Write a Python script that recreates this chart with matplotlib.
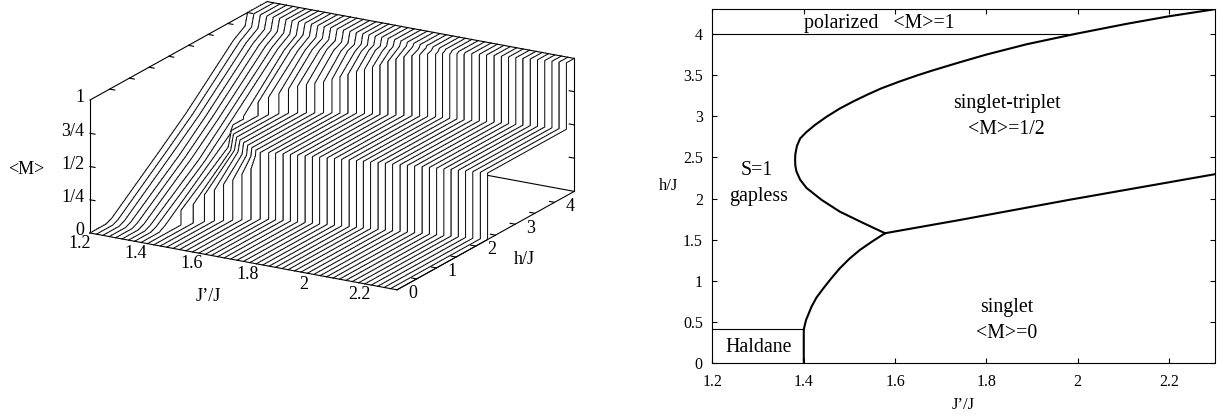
import matplotlib
matplotlib.use('Agg')
import matplotlib.pyplot as plt
from mpl_toolkits.mplot3d import proj3d
from mpl_toolkits.mplot3d.art3d import Poly3DCollection

plt.rcParams['font.family'] = ['Liberation Serif', 'DejaVu Serif']
plt.rcParams['font.size'] = 11.5

W, H = 1223, 418
LW = 0.8

# ---- left panel: one magnetization curve per J'/J ----
j_vals = [1.200, 1.223, 1.246, 1.269, 1.292, 1.315, 1.338, 1.360, 1.383, 1.406,
          1.429, 1.452, 1.475, 1.498, 1.521, 1.544, 1.567, 1.590, 1.613, 1.635,
          1.658, 1.681, 1.704, 1.727, 1.750, 1.773, 1.796, 1.819, 1.842, 1.865,
          1.888, 1.910, 1.933, 1.956, 1.979, 2.002, 2.025, 2.048, 2.071, 2.094,
          2.117, 2.140, 2.163, 2.185, 2.208, 2.231, 2.254, 2.277, 2.300]

# h where the singlet plateau begins for the large J' curves
h_step = [1.61, 1.63, 1.66, 1.68, 1.70, 1.73, 1.75, 1.77, 1.80, 1.82, 1.84,
          1.87, 1.89, 1.91, 1.93, 1.96, 1.98, 2.00, 2.03, 2.05, 2.07, 2.10,
          2.12, 2.14, 2.16, 2.19, 2.21, 2.23, 2.25, 2.28, 2.30]
# h where the polarized plateau begins for the largest J' curves
h_end = [4.01, 4.04, 4.06, 4.09, 4.11, 4.13, 4.15, 4.17, 4.20, 4.22, 4.24,
         4.26, 4.28, 4.30]

h_onset = [.41, .41, .41, .41, .41, .41, .41, .41, .46, .85, 1.00, 1.12, 1.21,
           1.28, 1.35, 1.42, 1.49, 1.56] + h_step
h_kick = [.55, .55, .55, .55, .55, .55, .55, .55, .62, .85, 1.00, 1.12, 1.21,
          1.28, 1.35, 1.42, 1.49, 1.56] + h_step
m_kick = [.02, .02, .02, .02, .02, .02, .02, .02, .03, .11, .14, .20, .23,
          .27, .30, .34, .38, .50] + [.50] * 31
h_low = [1.78, 1.78, 1.78, 1.78, 1.78, 1.78, 1.78, 1.78, 2.25, 2.05, 1.95,
         1.88, 1.81, 1.75, 1.70, 1.65, 1.60, 1.56] + h_step
m_low = [.33, .33, .33, .32, .32, .32, .31, .31, .44, .39, .39, .41, .42, .42,
         .43, .44, .46, .50] + [.50] * 31
h_plat_a = [2.44, 2.44, 2.44, 2.44, 2.44, 2.44, 2.44, 2.44, 2.33, 2.13, 2.02,
            1.94, 1.86, 1.79, 1.73, 1.67, 1.61, 1.58] + h_step
h_plat_b = [2.44, 2.44, 2.44, 2.44, 2.44, 2.44, 2.44, 2.44, 2.60, 2.81, 2.91,
            3.01, 3.09, 3.16, 3.22, 3.27, 3.33, 3.38, 3.42, 3.47, 3.52, 3.56,
            3.60, 3.63, 3.67, 3.71, 3.75, 3.79, 3.82, 3.86, 3.90, 3.92, 3.94,
            3.96, 3.98] + h_end
m_jump = [.50, .50, .50, .50, .50, .50, .50, .50, .52, .60, .63, .65, .68, .70,
          .71, .72, .73, .75, .77, .79, .81, .83, .85, .87, .90, .92, .94, .95,
          .96, .97, .97, .98, .98, .99, .99] + [1.0] * 14
h_up = [3.64, 3.64, 3.64, 3.64, 3.64, 3.64, 3.64, 3.64, 3.64, 3.64, 3.66, 3.68,
        3.70, 3.72, 3.74, 3.75, 3.77, 3.78, 3.80, 3.81, 3.83, 3.84, 3.85, 3.87,
        3.89, 3.90, 3.92, 3.93, 3.94, 3.95, 3.96, 3.97, 3.98, 3.99, 3.99] + h_end
m_up = [.85, .85, .85, .85, .85, .85, .85, .85, .85, .86, .86, .87, .88, .88,
        .89, .89, .89, .90, .90, .91, .92, .93, .93, .94, .95, .96, .97, .97,
        .98, .98, .98, .99, .99, .995, .995] + [1.0] * 14
h_top = [3.94] * 9 + [3.95] * 9 + [3.96, 3.96, 3.96, 3.96, 3.96, 3.96, 3.96, 3.97,
                                   3.97, 3.97, 3.98, 3.98, 3.98, 3.99, 3.99, 3.995,
                                   3.995] + h_end
m_top = [.91] * 9 + [.92] * 9 + [.93, .93, .94, .94, .95, .955, .965, .975, .98,
                                 .98, .985, .99, .99, .995, .995, .997, .997] + [1.0] * 14
h_sat = [4.0] * 35 + h_end

m_ticks = [0, .25, .5, .75, 1]
m_labels = ['0', '1/4', '1/2', '3/4', '1']
j_ticks_3d = [1.2, 1.4, 1.6, 1.8, 2, 2.2]
h_ticks_3d = [.5, 1, 1.5, 2, 2.5, 3, 3.5, 4]
h_labels_3d = [0, 1, 2, 3, 4]

# ---- right panel: phase boundaries ----
upper_j = [1.578, 1.53, 1.479, 1.439, 1.406, 1.392, 1.384, 1.3815, 1.381, 1.3815,
           1.385, 1.392, 1.405, 1.4245, 1.45, 1.479, 1.51, 1.538, 1.57, 1.611,
           1.65, 1.684, 1.742, 1.80, 1.888, 1.994, 2.107, 2.2, 2.3]
upper_h = [1.58, 1.705, 1.842, 1.985, 2.13, 2.23, 2.33, 2.40, 2.47, 2.54,
           2.64, 2.73, 2.805, 2.895, 2.995, 3.095, 3.185, 3.26, 3.34, 3.425,
           3.50, 3.56, 3.657, 3.75, 3.875, 4.0, 4.123, 4.215, 4.3]
lower_j = [1.40, 1.40, 1.405, 1.417, 1.428, 1.443, 1.46, 1.479, 1.50, 1.523, 1.55, 1.578]
lower_h = [0, .413, .526, .688, .80, .911, 1.03, 1.154, 1.27, 1.377, 1.48, 1.58]
plateau_j = [1.578, 1.742, 1.981, 2.3]
plateau_h = [1.58, 1.741, 1.985, 2.296]

fig = plt.figure(figsize=(W / 100, H / 100), dpi=100)

# left panel
side = 700
ax3 = fig.add_axes([0, 0, side / W, side / H], projection='3d', computed_zorder=False)
ax3.set_proj_type('ortho')
ax3.view_init(elev=18.7, azim=-60)
ax3.set_xlim(1.2, 2.3)
ax3.set_ylim(0, 4.5)
ax3.set_zlim(0, 1)
ax3.set_box_aspect((1, 1, 0.396))
ax3.set_axis_off()


def to_px(x, y, z):
    X, Y, _ = proj3d.proj_transform(x, y, z, ax3.get_proj())
    return ax3.transData.transform((X, Y))


# fit the box onto the picture: J' edge 307 px wide, origin at (90, 233)
ax3.apply_aspect()
width_now = to_px(2.3, 0, 0)[0] - to_px(1.2, 0, 0)[0]
ax3.set_box_aspect((1, 1, 0.396), zoom=307 / width_now)
ax3.apply_aspect()
ox, oy = to_px(1.2, 0, 0)
ax3.set_position([(90 - ox) / W, (H - 233 - oy) / H, side / W, side / H])
ax3.apply_aspect()


def edge(xs, ys, zs, z=0):
    ax3.plot(xs, ys, zs, color='k', lw=LW, zorder=z)


def label(x, y, z, s, **kw):
    px, py = to_px(x, y, z)
    fig.text(px / W, py / H, s, fontsize=13, va='center', **kw)


# box lines that can lie behind the surface
edge([1.2, 2.3], [4.5, 4.5], [0, 0], 0)
edge([1.2, 1.2], [0, 0], [0, 1], 0)
edge([2.3, 2.3], [4.5, 4.5], [0, 1], 0)
edge([1.2, 1.2], [0, 4.5], [1, 1], 0)
edge([1.2, 1.2], [0, 4.5], [0, 0], 0)

curves = []
for i in range(len(j_vals)):
    hs = [0, h_onset[i], h_kick[i], h_low[i], h_plat_a[i], h_plat_b[i], h_plat_b[i],
          h_up[i], h_top[i], h_sat[i], 4.5]
    ms = [0, 0, m_kick[i], m_low[i], .5, .5, m_jump[i], m_up[i], m_top[i], 1, 1]
    curves.append((hs, ms))

# back to front: a white strip hides what is behind, then both its curves go on top
for i, (hs, ms) in enumerate(curves):
    if i > 0:
        hp, mp = curves[i - 1]
        quads = []
        for k in range(len(hs) - 1):
            quads.append([(j_vals[i - 1], hp[k], mp[k]), (j_vals[i - 1], hp[k + 1], mp[k + 1]),
                          (j_vals[i], hs[k + 1], ms[k + 1]), (j_vals[i], hs[k], ms[k])])
        ax3.add_collection3d(Poly3DCollection(quads, facecolors='white', edgecolors='none',
                                              linewidths=0, antialiaseds=False, zorder=3 * i))
        ax3.plot([j_vals[i - 1]] * len(hp), hp, mp, color='k', lw=.7, zorder=3 * i + 1)
    ax3.plot([j_vals[i]] * len(hs), hs, ms, color='k', lw=.7, zorder=3 * i + 2)

edge([1.2, 2.3], [0, 0], [0, 0], 500)
edge([2.3, 2.3], [0, 4.5], [0, 0], 500)
edge([1.2, 2.3], [4.5, 4.5], [1, 1], 500)

# ticks run along the J' direction, about 5 px
tick_j = 0.018
for m in m_ticks[1:-1]:
    edge([1.2, 1.2 + tick_j], [0, 0], [m, m], 500)
    edge([2.3, 2.3 - tick_j], [4.5, 4.5], [m, m], 500)
for h in h_ticks_3d:
    edge([1.2, 1.2 + tick_j], [h, h], [1, 1], 500)
    edge([2.3, 2.3 - tick_j], [h, h], [0, 0], 500)

for m, lab in zip(m_ticks, m_labels):
    label(1.18, 0, m + .008, lab, ha='right')
for j in j_ticks_3d:
    label(j, -.25, -.035, str(j), ha='center')
for h in h_labels_3d:
    label(2.356, h, -.007, str(h), ha='center')
label(1.721, -.7, -.158, 'J’/J', ha='center')
label(2.44, 2.24, -.086, 'h/J', ha='center')
label(.97, 0, .39, '<M>', ha='center')

# right panel
ax = fig.add_axes([712.5 / W, 1 - 363.3 / H, 502 / W, 354 / H])
ax.plot(upper_j, upper_h, color='k', lw=1.5)
ax.plot(lower_j, lower_h, color='k', lw=1.5)
ax.plot(plateau_j, plateau_h, color='k', lw=1.5)
ax.plot([1.2, 1.995], [4, 4], color='k', lw=LW)
ax.plot([1.2, 1.4], [.413, .413], color='k', lw=LW)
ax.set_xlim(1.2, 2.3)
ax.set_ylim(0, 4.3)
ax.set_xticks([1.2, 1.4, 1.6, 1.8, 2, 2.2])
ax.set_xticklabels(['1.2', '1.4', '1.6', '1.8', '2', '2.2'])
ax.set_yticks([0, .5, 1, 1.5, 2, 2.5, 3, 3.5, 4])
ax.set_yticklabels(['0', '0.5', '1', '1.5', '2', '2.5', '3', '3.5', '4'])
ax.tick_params(direction='in', top=True, right=True, length=3.6, width=LW)
ax.tick_params(axis='x', pad=7.5)
ax.tick_params(axis='y', pad=7)
for s in ax.spines.values():
    s.set_linewidth(LW)
ax.set_xlabel('J’/J', fontsize=12, va='center')
ax.xaxis.set_label_coords(.5, -.118)
ax.set_ylabel('h/J', rotation=0, ha='center', va='center', fontsize=12)
ax.yaxis.set_label_coords(-.088, .5)

big = 14.3
ax.text(1.4, 4.127, 'polarized   <M>=1', ha='left', va='center', fontsize=big)
ax.text(1.845, 3.155, 'singlet-triplet', ha='center', va='center', fontsize=big)
ax.text(1.845, 2.84, '<M>=1/2', ha='center', va='center', fontsize=big)
ax.text(1.2975, 2.34, 'S=1', ha='center', va='center', fontsize=big)
ax.text(1.302, 2.025, 'gapless', ha='center', va='center', fontsize=big)
ax.text(1.845, .676, 'singlet', ha='center', va='center', fontsize=big)
ax.text(1.845, .36, '<M>=0', ha='center', va='center', fontsize=big)
ax.text(1.301, .194, 'Haldane', ha='center', va='center', fontsize=big)

fig.savefig('out.png', dpi=100)
